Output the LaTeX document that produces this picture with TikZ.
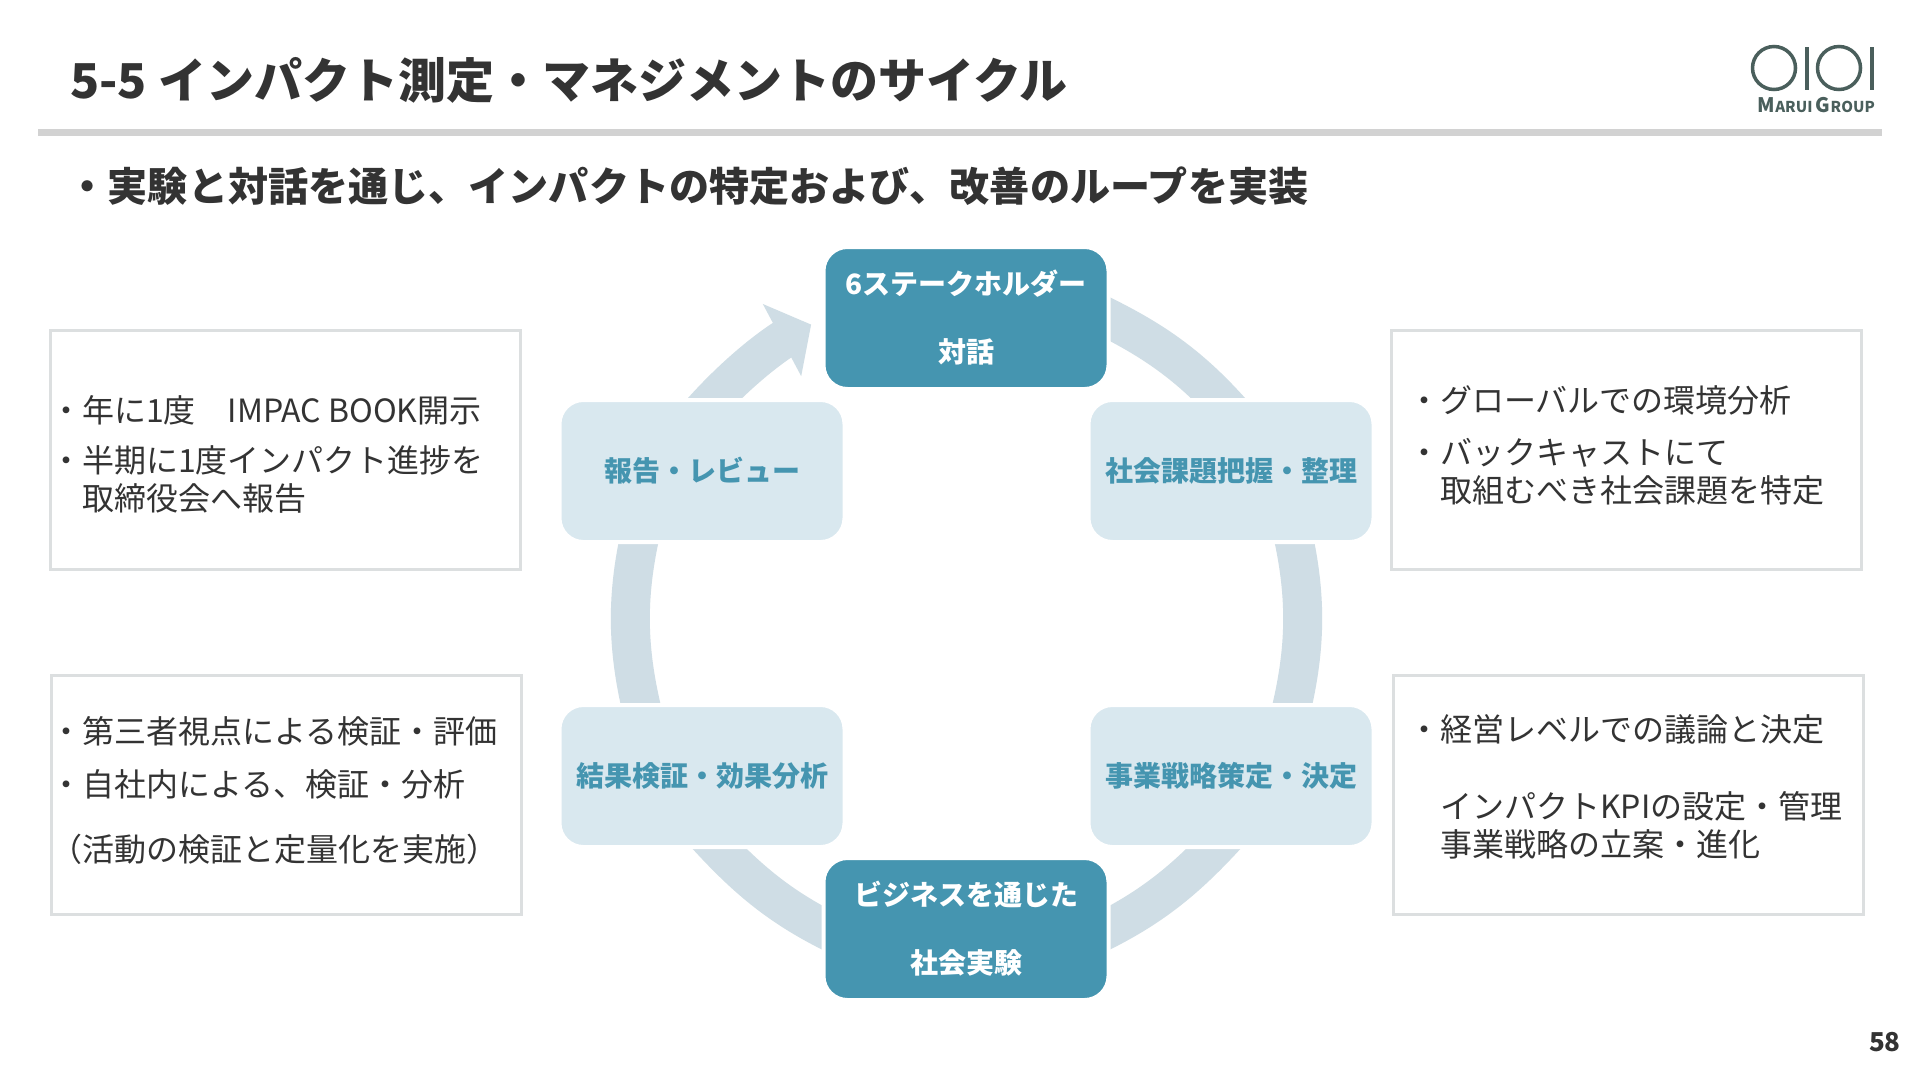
\documentclass[tikz,border=0pt]{standalone}
\usepackage{fontspec}
\setmainfont{Noto Sans CJK JP}
\usetikzlibrary{positioning, arrows.meta, backgrounds}
\definecolor{inkgray}{HTML}{333333}
\definecolor{rulegray}{HTML}{D2D2D2}
\definecolor{boxgray}{HTML}{DCDFE0}
\definecolor{ringblue}{HTML}{CFDDE5}
\definecolor{deepteal}{HTML}{4595B0}
\definecolor{paleteal}{HTML}{D9E8EF}
\definecolor{logogreen}{HTML}{4A5F5C}
\tikzset{
  stagebox/.style={rectangle, rounded corners=24pt, draw=white, line width=4pt, outer sep=0pt,
    minimum width=285pt, minimum height=142pt, align=center, font=\fontsize{28}{68}\selectfont\bfseries},
  mainstage/.style={stagebox, fill=deepteal, text=white},
  substage/.style={stagebox, fill=paleteal, text=deepteal},
  memobox/.style={rectangle, draw=boxgray, line width=3pt, minimum width=470pt, minimum height=239pt},
  memotext/.style={anchor=north west, inner sep=0pt, align=left, text=inkgray, font=\fontsize{32}{38}\selectfont},
  ringarc/.style={draw=ringblue, line width=39pt, looseness=0.86},
}
\begin{document}
\begin{tikzpicture}[x=1pt, y=-1pt]
                  \useasboundingbox (0,0) rectangle (1920,1080);

                  % Heading
                  \node[anchor=west, inner sep=0pt, text=inkgray, font=\fontsize{48}{48}\selectfont\bfseries] (title) at (70,80) {5-5 インパクト測定・マネジメントのサイクル};
                  \draw[rulegray, line width=7pt] (38,132) -- (1882,132);
                  \node[anchor=west, inner sep=0pt, text=inkgray, font=\fontsize{40.1}{40}\selectfont\bfseries] (lead) at (67.5,186) {・実験と対話を通じ、インパクトの特定および、改善のループを実装};
                  \node[anchor=east, inner sep=0pt, text=inkgray, font=\fontsize{26}{26}\selectfont\bfseries] (pageno) at (1901,1042) {58};

                  % Logo
                  \foreach \x/\n in {1774/A,1839/B}
                  \node[circle, draw=logogreen, line width=3.5pt, minimum size=43pt, inner sep=0pt] (logo\n) at (\x,68) {};
                  \foreach \x in {1807,1872}
                  \draw[logogreen, line width=3.5pt] (\x,47) -- (\x,90);
                  \node[anchor=east, inner sep=0pt, text=logogreen, font=\fontsize{15}{15}\selectfont\bfseries] (logotext) at (1875,105) {{\fontsize{20}{20}\selectfont M}ARUI {\fontsize{20}{20}\selectfont G}ROUP};

                  % Cycle nodes
                  \node[mainstage] (dialog) at (966,318) {6ステークホルダー\\対話};
                  \node[mainstage] (trial) at (966,929) {ビジネスを通じた\\社会実験};
                  \node[substage] (issue) at (1231,471) {社会課題把握・整理};
                  \node[substage] (strategy) at (1231,776) {事業戦略策定・決定};
                  \node[substage] (check) at (702,776) {結果検証・効果分析};
                  \node[substage] (report) at (702,471) {報告・レビュー};

                  % Memo boxes
                  \node[memobox] (yearbox) at (285,450) {};
                  \node[memobox] (verifybox) at (286,795) {};
                  \node[memobox] (envbox) at (1626,450) {};
                  \node[memobox] (decidebox) at (1628,795) {};

                  % Memo texts
                  \node[memotext] (yeartext) at (50,395) {・年に1度　IMPAC BOOK開示\\[12pt]・半期に1度インパクト進捗を\\\hspace*{1em}取締役会へ報告};
                  \node[memotext] (verifytext) at (50,716) {・第三者視点による検証・評価\\[15pt]・自社内による、検証・分析\\[27pt]（活動の検証と定量化を実施）};
                  \node[memotext] (envtext) at (1408,385) {・グローバルでの環境分析\\[14pt]・バックキャストにて\\\hspace*{1em}取組むべき社会課題を特定};
                  \node[memotext] (decidetext) at (1408,714) {・経営レベルでの議論と決定\\[39pt]\hspace*{1em}インパクトKPIの設定・管理\\\hspace*{1em}事業戦略の立案・進化};

                  % Arrows
                  \begin{scope}[on background layer]
                  \fill[white] (0,0) rectangle (1920,1080);
                  \foreach \a/\b/\o/\n in {dialog.east/issue.98/-25/131,
                                           issue.-48.5/strategy.49/-76/75,
                                           strategy.258/trial.east/-132/25,
                                           trial.west/check.-78.5/155/-48,
                                           check.131.5/report.228/105/256}
                  \draw[ringarc, shorten <=-24pt, shorten >=-24pt] (\a) to[out=\o, in=\n] (\b);
                  \draw[ringarc, shorten <=-24pt, shorten >=14pt, -{Triangle[length=33pt, width=80pt]}] (report.82.6) to[out=49, in=208] (dialog.west);
                  \end{scope}
              \end{tikzpicture}
\end{document}
